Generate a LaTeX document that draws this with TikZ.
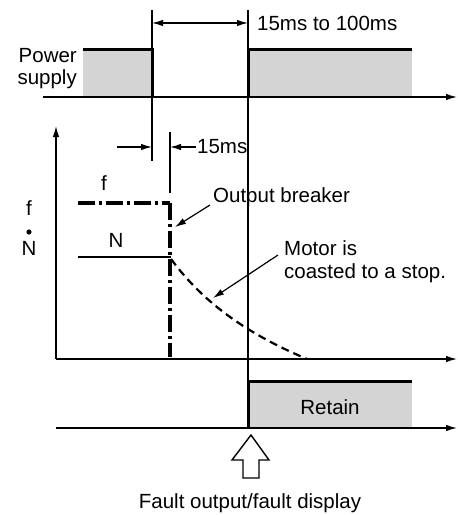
\documentclass[tikz,border=0pt]{standalone}
\usepackage{fontspec}
\setmainfont{Liberation Sans}
\usetikzlibrary{arrows.meta}
\begin{document}
\begin{tikzpicture}[x=1pt,y=-1pt,
  thin line/.style={line width=1.2pt},
  thick line/.style={line width=3pt},
  axis/.style={line width=1.2pt,-{Latex[length=11pt,width=6.5pt]}},
  dim/.style={line width=1.2pt,{Latex[length=11pt,width=6.5pt]}-{Latex[length=11pt,width=6.5pt]}},
  pointer/.style={line width=1.2pt,-{Latex[length=11pt,width=6.5pt]}},
  lbl/.style={font=\fontsize{20.5}{24}\selectfont,inner sep=0pt},
  pulse/.style={fill=black!17,draw=none},
  dashdot/.style={line width=3.2pt,dash pattern=on 17pt off 4pt on 3pt off 4pt},
  every node/.style={lbl}]
\useasboundingbox (0,0) rectangle (458,515);
% coordinates
\coordinate (v1t) at (152,10);
\coordinate (v1b) at (152,161);
\coordinate (v2t) at (248,10);
\coordinate (v2b) at (248,381);
\coordinate (v3t) at (170,132);
\coordinate (v3b) at (170,193);
% power supply pulses
\fill[pulse] (83,49) rectangle (152,97);
\fill[pulse] (248,49) rectangle (412,97);
\draw[thick line] (83,49) -- (152,49) -- (152,97);
\draw[thick line] (248,97) -- (248,49) -- (412,49);
\coordinate (a1s) at (43,97);
\coordinate (a1e) at (457,97);
\draw[axis] (a1s) -- (a1e);
\node[anchor=east,align=right] (ps) at (77,69) {Power\\[-2pt]supply};
% vertical guides
\draw[thin line] (v1t) -- (v1b);
\draw[thin line] (v2t) -- (v2b);
\draw[thin line] (v3t) -- (v3b);
% dimension 15ms to 100ms
\coordinate (d1a) at (152,23);
\coordinate (d1b) at (248,23);
\draw[dim] (d1a) -- (d1b);
\node[anchor=west] (t1) at (257,23) {15ms to 100ms};
% 15ms dimension
\coordinate (d2l) at (117,147);
\coordinate (d2a) at (152,147);
\coordinate (d2b) at (170,147);
\coordinate (d2r) at (196,147);
\draw[pointer] (d2l) -- (d2a);
\draw[pointer] (d2r) -- (d2b);
\node[anchor=west] (t2) at (197,147) {15ms};
% graph axes
\coordinate (o) at (56,359);
\coordinate (ytop) at (56,126);
\coordinate (xend) at (457,359);
\draw[axis] (o) -- (ytop);
\draw[axis] (o) -- (xend);
\node (lf) at (29,208) {f};
\fill (29,232) circle (2.6pt);
\node (ln) at (29,248) {N};
% f and N
\draw[dashdot] (78,203) -- (170,203);
\draw[dashdot] (170,203) -- (170,357);
\draw[line width=2.2pt] (78,257) -- (171,257);
\node (nf) at (104,183) {f};
\node (nn) at (116,240) {N};
% coast curve
\draw[line width=2.2pt,dash pattern=on 8pt off 5pt] (171,259) .. controls (205,305) and (250,335) .. (307,359);
% labels and pointers
\node[anchor=west] (ob) at (213,197) {Output breaker};
\coordinate (obs) at (210,205);
\coordinate (obe) at (175,227);
\draw[pointer] (obs) -- (obe);
\node[anchor=west,align=left] (mt) at (284,262) {Motor is\\[-1pt]coasted to a stop.};
\coordinate (ms) at (278,255);
\coordinate (me) at (213,298);
\draw[pointer] (ms) -- (me);
% retain pulse
\fill[pulse] (248,381) rectangle (412,428);
\draw[thick line] (248,428) -- (248,381) -- (412,381);
\node (rt) at (330,407) {Retain};
\coordinate (b1) at (56,428);
\coordinate (b2) at (457,428);
\draw[axis] (b1) -- (b2);
% hollow arrow
\draw[line width=1.4pt,fill=white] (251,435) -- (269,460) -- (259,460) -- (259,478) -- (243,478) -- (243,460) -- (232,460) -- cycle;
\node (fd) at (250,503) {Fault output/fault display};
\end{tikzpicture}
\end{document}
